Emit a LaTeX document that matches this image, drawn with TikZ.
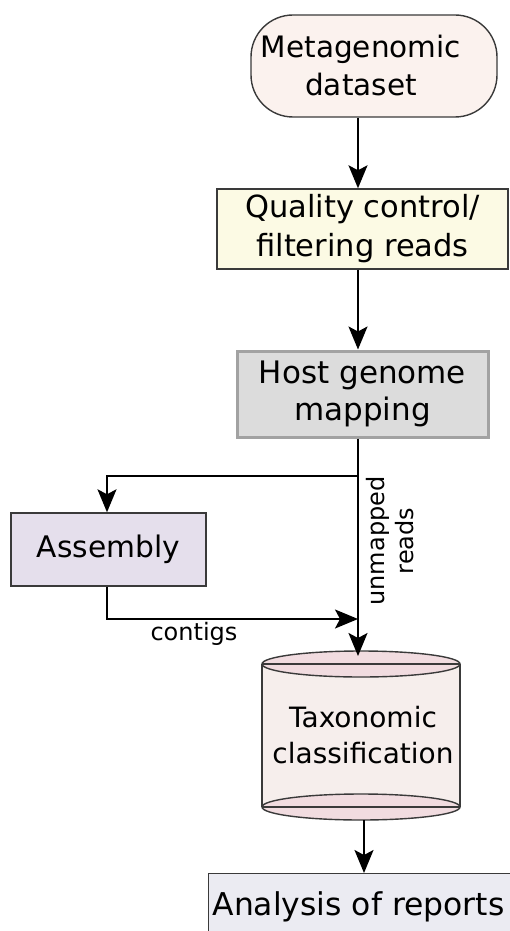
\documentclass[tikz,border=0pt]{standalone}
\usepackage{fontspec}
\setmainfont{DejaVu Sans}
\usetikzlibrary{arrows.meta}

\definecolor{metafill}{HTML}{FBF2EE}
\definecolor{qualfill}{HTML}{FCFAE4}
\definecolor{hostfill}{HTML}{DCDCDC}
\definecolor{hostedge}{HTML}{A2A2A2}
\definecolor{asmfill}{HTML}{E5DFEC}
\definecolor{cylbody}{HTML}{F6EEEC}
\definecolor{cyltop}{HTML}{F1DCE0}
\definecolor{anafill}{HTML}{EBEBF2}
\definecolor{edge}{HTML}{3A3A3A}

\tikzset{
  box/.style={draw=edge, line width=1.4pt, minimum width=#1, inner sep=0pt},
  txt/.style={align=center, inner sep=0pt, text=black},
  flow/.style={line width=1.8pt, -{Stealth[length=23pt, width=19pt, inset=5pt]}},
  lbl/.style={inner sep=0pt, text=black, font=\fontsize{24}{29}\selectfont, align=center}
}

\begin{document}
\begin{tikzpicture}[x=1pt, y=-1pt]
  \useasboundingbox (0,0) rectangle (510,931);

  % start: rounded dataset shape
  \node[box=246pt, minimum height=102pt, rounded corners=42pt, fill=metafill] (meta) at (374,66) {};
  \node[txt, font=\fontsize{29.5}{38}\selectfont] (metatxt) at (361,66) {Metagenomic\\dataset};

  % quality control
  \node[box=291pt, minimum height=80pt, fill=qualfill,
        font=\fontsize{30.5}{39}\selectfont, align=center] (qual) at (362.5,229) {Quality control/\\filtering reads};

  % host mapping
  \node[draw=hostedge, line width=3pt, minimum width=251pt, minimum height=86pt, inner sep=0pt,
        fill=hostfill, font=\fontsize{31}{37}\selectfont, align=center] (host) at (362.5,394) {Host genome\\mapping};

  % assembly
  \node[box=195pt, minimum height=73pt, fill=asmfill,
        font=\fontsize{29.7}{36}\selectfont] (asm) at (108.5,549.5) {Assembly};

  % taxonomic classification cylinder
  \fill[cylbody] (262,664) -- (262,807) -- (460,807) -- (460,664) -- cycle;
  \draw[edge, line width=1.4pt] (262,664) -- (262,807);
  \draw[edge, line width=1.4pt] (460,664) -- (460,807);
  \draw[edge, line width=1.4pt, fill=cyltop] (361,807) ellipse [x radius=99pt, y radius=13pt];
  \draw[edge, line width=1.2pt] (262,807) -- (460,807);
  \draw[edge, line width=1.4pt, fill=cyltop] (361,664) ellipse [x radius=99pt, y radius=13pt];
  \draw[edge, line width=1.2pt] (262,664) -- (460,664);
  \node[txt, minimum width=198pt, minimum height=169pt, font=\fontsize{28}{36}\selectfont] (tax) at (363,735.5) {Taxonomic\\classification};

  % reports
  \node[box=320pt, minimum height=80pt, fill=anafill, anchor=north west] (anabox) at (208,873) {};
  \node[txt, font=\fontsize{31.4}{38}\selectfont] (ana) at (358.5,906.5) {Analysis of reports};

  % connectors
  \coordinate (split) at (358,476);
  \coordinate (merge) at (358,619);
  \coordinate (taxin) at (358,656);
  \coordinate (asmturn) at (107,619);
  \coordinate (repx) at (364,820);

  \draw[flow] (meta.south -| split) -- (qual.north -| split);
  \draw[flow] (qual.south -| split) -- (host.north -| split);
  \draw[flow] (host.south -| split) -- (taxin);
  \draw[flow] (split) -| (asm.north -| asmturn);
  \draw[flow] (asm.south -| asmturn) -- (asmturn) -- (merge);
  \draw[flow] (repx) -- (anabox.north -| repx);

  % edge labels
  \node[lbl] (contigs) at (194,633.7) {contigs};
  \node[lbl, rotate=90] (unmapped) at (390,541) {unmapped\\reads};
\end{tikzpicture}
\end{document}
